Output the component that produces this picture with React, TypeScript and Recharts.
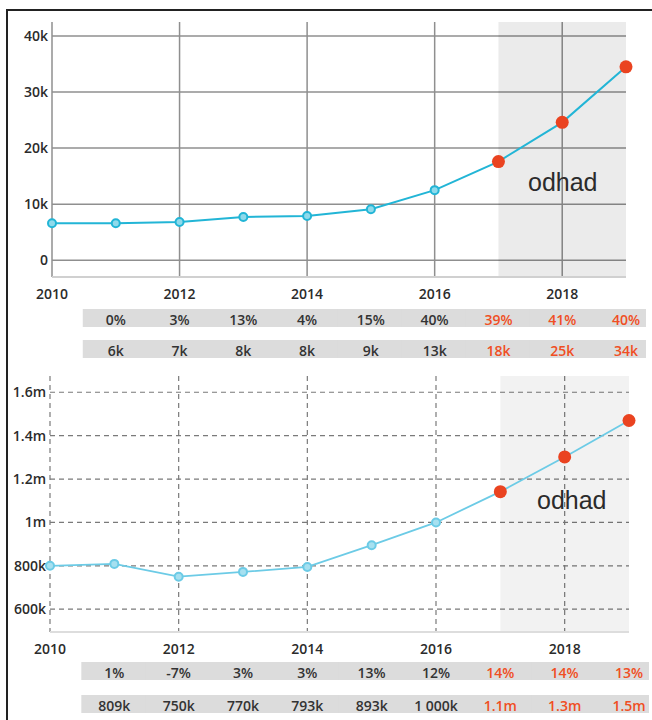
import {
  CartesianGrid,
  Line,
  LineChart,
  ReferenceArea,
  XAxis,
  YAxis,
} from 'recharts';

const years = [2010, 2011, 2012, 2013, 2014, 2015, 2016, 2017, 2018, 2019];
const yearTicks = [2010, 2012, 2014, 2016, 2018];
const tableYears = [2011, 2012, 2013, 2014, 2015, 2016, 2017, 2018, 2019];
const estimateFrom = 2017;
const xDomain: [number, number] = [2010, 2019];

// top chart
const topValues = [6600, 6600, 6800, 7700, 7900, 9100, 12500, 17600, 24600, 34500];
const topTicks = [0, 10000, 20000, 30000, 40000];
const topDomain: [number, number] = [-3000, 42500];
const topPct = ['0%', '3%', '13%', '4%', '15%', '40%', '39%', '41%', '40%'];
const topRounded = ['6k', '7k', '8k', '8k', '9k', '13k', '18k', '25k', '34k'];

// bottom chart
const bottomValues = [800000, 809000, 750000, 772000, 795000, 895000, 1000000, 1142000, 1302000, 1470000];
const bottomTicks = [600000, 800000, 1000000, 1200000, 1400000, 1600000];
const bottomDomain: [number, number] = [495000, 1675000];
const bottomPct = ['1%', '-7%', '3%', '3%', '13%', '12%', '14%', '14%', '13%'];
const bottomRounded = ['809k', '750k', '770k', '793k', '893k', '1 000k', '1.1m', '1.3m', '1.5m'];

const topData = years.map((y, i) => ({ year: y, v: topValues[i] }));
const bottomData = years.map((y, i) => ({ year: y, v: bottomValues[i] }));

const FONT = '"Open Sans", "DejaVu Sans", sans-serif';
const RED = '#f04e23';
const TEXT = '#2b2b2b';

function makeDot(stroke: string, fill: string, r: number) {
  return (props: any) => {
    const { cx, cy, payload, index } = props;
    if (cx == null || cy == null) return <g key={`d${index}`} />;
    if (payload.year >= estimateFrom) {
      return <circle key={`d${index}`} cx={cx} cy={cy} r={6.5} fill="#ea4320" />;
    }
    return (
      <circle key={`d${index}`} cx={cx} cy={cy} r={r} fill={fill} stroke={stroke} strokeWidth={2} />
    );
  };
}

// one table cell per tick: grey band + label, red for the estimate years
function makeTableTick(labels: string[]) {
  return (props: any) => {
    const { x, y, payload } = props;
    const i = tableYears.indexOf(payload.value);
    const last = i === tableYears.length - 1;
    return (
      <g>
        <rect x={x - 33} y={y + 4} width={last ? 53 : 66} height={18} fill="#dcdcdc" />
        <text
          x={x}
          y={y + 19.5}
          textAnchor="middle"
          fontFamily={FONT}
          fontSize={14}
          fontWeight={600}
          fill={payload.value >= estimateFrom ? RED : '#333'}
        >
          {labels[i]}
        </text>
      </g>
    );
  };
}

// map a value through the axis scale (function or wrapped), else linear over the plot offset
function mapValue(axis: any, v: number, fallback: () => number) {
  const s = axis && axis.scale;
  if (typeof s === 'function') return s(v);
  if (s && typeof s.map === 'function') return s.map(v);
  return fallback();
}

// grid lines only at the axis ticks, no frame at the plot edges
const verticalAt = (props: any) =>
  yearTicks.map((t) =>
    mapValue(props.xAxis, t, () => {
      const o = props.offset;
      return o.left + ((t - xDomain[0]) / (xDomain[1] - xDomain[0])) * o.width;
    }),
  );

const horizontalAt = (ticks: number[], domain: [number, number]) => (props: any) =>
  ticks.map((t) =>
    mapValue(props.yAxis, t, () => {
      const o = props.offset;
      return o.top + o.height - ((t - domain[0]) / (domain[1] - domain[0])) * o.height;
    }),
  );

const tickStyle = { fontSize: 14, fill: TEXT, fontFamily: FONT, fontWeight: 600 };

function fmtTop(v: number) {
  return v === 0 ? '0' : `${v / 1000}k`;
}

function fmtBottom(v: number) {
  return v >= 1000000 ? `${v / 1000000}m` : `${v / 1000}k`;
}

function TopChart() {
  return (
    <LineChart
      width={652}
      height={367}
      data={topData}
      margin={{ top: 22, right: 26, bottom: 0, left: 8 }}
    >
      <ReferenceArea x1={estimateFrom} x2={2019} fill="#000" fillOpacity={0.08} stroke="none" />
      <CartesianGrid
        stroke="#8f8f8f"
        strokeWidth={1.5}
        verticalCoordinatesGenerator={verticalAt}
        horizontalCoordinatesGenerator={horizontalAt(topTicks, topDomain)}
      />
      <XAxis
        dataKey="year"
        type="number"
        domain={xDomain}
        ticks={yearTicks}
        interval={0}
        height={28}
        tickLine={false}
        tickSize={6}
        tickMargin={6}
        axisLine={{ stroke: '#d0d0d0', strokeWidth: 2 }}
        tick={tickStyle}
      />
      <XAxis
        xAxisId="pct"
        dataKey="year"
        type="number"
        domain={xDomain}
        ticks={tableYears}
        interval={0}
        height={31}
        tickLine={false}
        tickSize={0}
        tickMargin={0}
        axisLine={false}
        tick={makeTableTick(topPct)}
      />
      <XAxis
        xAxisId="rounded"
        dataKey="year"
        type="number"
        domain={xDomain}
        ticks={tableYears}
        interval={0}
        height={31}
        tickLine={false}
        tickSize={0}
        tickMargin={0}
        axisLine={false}
        tick={makeTableTick(topRounded)}
      />
      <YAxis
        type="number"
        domain={topDomain}
        ticks={topTicks}
        width={44}
        tickLine={false}
        tickSize={2}
        tickMargin={2}
        axisLine={false}
        tickFormatter={fmtTop}
        tick={tickStyle}
      />
      <Line
        dataKey="v"
        stroke="#22b5d6"
        strokeWidth={2}
        dot={makeDot('#22b5d6', '#8fdaeb', 4)}
        activeDot={false}
        isAnimationActive={false}
      />
    </LineChart>
  );
}

function BottomChart() {
  return (
    <LineChart
      width={652}
      height={364}
      data={bottomData}
      margin={{ top: 16, right: 23, bottom: 0, left: 6 }}
    >
      <ReferenceArea x1={estimateFrom} x2={2019} fill="#000" fillOpacity={0.05} stroke="none" />
      <CartesianGrid
        stroke="#7a7a7a"
        strokeWidth={1.2}
        strokeDasharray="5 4"
        verticalCoordinatesGenerator={verticalAt}
        horizontalCoordinatesGenerator={horizontalAt(bottomTicks, bottomDomain)}
      />
      <XAxis
        dataKey="year"
        type="number"
        domain={xDomain}
        ticks={yearTicks}
        interval={0}
        height={26}
        tickLine={false}
        tickSize={6}
        tickMargin={6}
        axisLine={{ stroke: '#dddddd', strokeWidth: 2 }}
        tick={tickStyle}
      />
      <XAxis
        xAxisId="pct"
        dataKey="year"
        type="number"
        domain={xDomain}
        ticks={tableYears}
        interval={0}
        height={33}
        tickLine={false}
        tickSize={0}
        tickMargin={0}
        axisLine={false}
        tick={makeTableTick(bottomPct)}
      />
      <XAxis
        xAxisId="rounded"
        dataKey="year"
        type="number"
        domain={xDomain}
        ticks={tableYears}
        interval={0}
        height={33}
        tickLine={false}
        tickSize={0}
        tickMargin={0}
        axisLine={false}
        tick={makeTableTick(bottomRounded)}
      />
      <YAxis
        type="number"
        domain={bottomDomain}
        ticks={bottomTicks}
        width={44}
        tickLine={false}
        tickSize={2}
        tickMargin={2}
        axisLine={false}
        tickFormatter={fmtBottom}
        tick={tickStyle}
      />
      <Line
        dataKey="v"
        stroke="#6ccbe6"
        strokeWidth={1.8}
        dot={makeDot('#6ccbe6', '#a6e0f0', 4)}
        activeDot={false}
        isAnimationActive={false}
      />
    </LineChart>
  );
}

const odhadStyle = {
  position: 'absolute' as const,
  fontFamily: '"Liberation Sans", Arial, sans-serif',
  fontSize: 25,
  lineHeight: '25px',
  color: '#2b2b2b',
};

export default function App() {
  return (
    <div style={{ position: 'absolute', left: 0, top: 0, width: 652, height: 720, overflow: 'hidden', background: '#fff' }}>
      <div
        style={{
          position: 'absolute',
          left: 6,
          top: 9,
          width: 660,
          height: 720,
          borderTop: '2px solid #222',
          borderLeft: '2px solid #222',
        }}
      />
      <div style={{ position: 'absolute', left: 0, top: 0 }}>
        <TopChart />
      </div>
      <div style={{ position: 'absolute', left: 0, top: 360 }}>
        <BottomChart />
      </div>
      <div style={{ ...odhadStyle, left: 528, top: 170 }}>odhad</div>
      <div style={{ ...odhadStyle, left: 537, top: 488 }}>odhad</div>
    </div>
  );
}
